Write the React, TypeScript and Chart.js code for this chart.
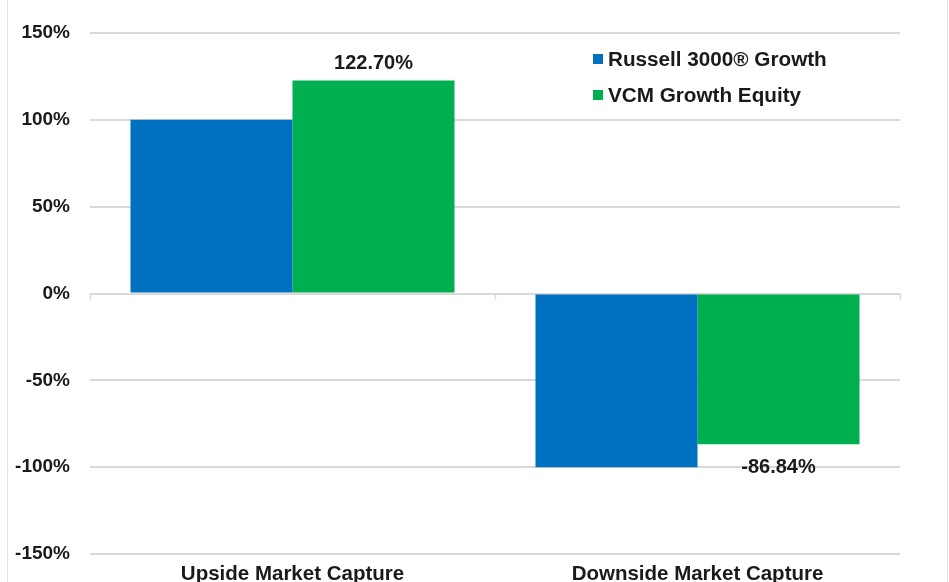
import React, { useEffect, useRef } from "react";
import { Chart, registerables } from "chart.js";

Chart.register(...registerables);

const categories = ["Upside Market Capture", "Downside Market Capture"];
const seriesNames = ["Russell 3000® Growth", "VCM Growth Equity"];
const russellValues = [100, -100];
const vcmValues = [122.7, -86.84];
const vcmLabels = ["122.70%", "-86.84%"];
const yMin = -150;
const yMax = 150;
const yStep = 50;

const BLUE = "#0070C0";
const GREEN = "#00B050";
const TEXT = "#1a1a1a";
const GRID = "#d9d9d9";
const FONT = "'Liberation Sans', Arial, sans-serif";

const extrasPlugin = {
  id: "extras",
  afterDatasetsDraw(chart: any) {
    const ctx = chart.ctx;
    const xs = chart.scales.x;
    const ys = chart.scales.y;
    const zeroY = ys.getPixelForValue(0);
    ctx.save();
    // tick marks on zero line at category boundaries
    ctx.strokeStyle = GRID;
    ctx.lineWidth = 1.5;
    const n = categories.length;
    const step = (xs.right - xs.left) / n;
    for (let i = 0; i <= n; i++) {
      const x = Math.round(xs.left + step * i) + 0.5;
      ctx.beginPath();
      ctx.moveTo(x, zeroY);
      ctx.lineTo(x, zeroY + 6);
      ctx.stroke();
    }
    // category labels
    ctx.fillStyle = TEXT;
    ctx.font = `bold 20.5px ${FONT}`;
    ctx.textAlign = "center";
    ctx.textBaseline = "alphabetic";
    categories.forEach((c, i) => {
      ctx.fillText(c, xs.getPixelForValue(i), ys.bottom + 26);
    });
    // data labels on VCM bars
    ctx.font = `bold 20px ${FONT}`;
    const meta = chart.getDatasetMeta(1);
    meta.data.forEach((el: any, i: number) => {
      const v = vcmValues[i];
      const y = v >= 0 ? el.y - 11 : el.y + 29;
      ctx.fillText(vcmLabels[i], el.x, y);
    });
    // legend
    ctx.font = `bold 20.7px ${FONT}`;
    const colors = [BLUE, GREEN];
    const lx = 593;
    const ly = [59, 95];
    ctx.textAlign = "left";
    ctx.textBaseline = "middle";
    seriesNames.forEach((name, i) => {
      ctx.fillStyle = colors[i];
      ctx.fillRect(lx, ly[i] - 5, 10, 10);
      ctx.fillStyle = TEXT;
      ctx.fillText(name, lx + 15, ly[i] + 1);
    });
    ctx.restore();
  },
};

export default function App() {
  const canvasRef = useRef<HTMLCanvasElement | null>(null);

  useEffect(() => {
    document.body.style.margin = "0";
    document.body.style.background = "#ffffff";
    const canvas = canvasRef.current;
    if (!canvas) return;
    const chart = new Chart(canvas, {
      type: "bar",
      data: {
        labels: categories,
        datasets: [
          {
            label: seriesNames[0],
            data: russellValues,
            backgroundColor: BLUE,
            categoryPercentage: 0.8,
            barPercentage: 1.0,
          },
          {
            label: seriesNames[1],
            data: vcmValues,
            backgroundColor: GREEN,
            categoryPercentage: 0.8,
            barPercentage: 1.0,
          },
        ],
      },
      options: {
        responsive: false,
        maintainAspectRatio: false,
        animation: false,
        layout: { padding: { top: 33, right: 49, bottom: 28, left: 0 } },
        plugins: {
          legend: { display: false },
          tooltip: { enabled: false },
        },
        scales: {
          x: {
            grid: { display: false, drawTicks: false },
            border: { display: false },
            ticks: { display: false },
          },
          y: {
            min: yMin,
            max: yMax,
            grid: { color: GRID, lineWidth: 2, drawTicks: false },
            border: { display: false },
            ticks: {
              stepSize: yStep,
              color: TEXT,
              padding: 20,
              font: { family: FONT, size: 19, weight: "bold" },
              callback: (v: any) => `${v}%`,
            },
            afterFit(scale: any) {
              scale.width = 90;
              scale.paddingTop = 0;
              scale.paddingBottom = 0;
            },
          },
        },
      },
      plugins: [extrasPlugin],
    });
    return () => chart.destroy();
  }, []);

  return (
    <div style={{ position: "relative", width: 949, height: 582, overflow: "hidden", background: "#fff" }}>
      <canvas ref={canvasRef} width={949} height={582} style={{ position: "absolute", left: 0, top: 0 }} />
      <div
        style={{
          position: "absolute",
          left: 7,
          top: -2,
          width: 939,
          height: 590,
          borderLeft: "1px solid #e4e4e4",
          borderRight: "1px solid #e4e4e4",
          pointerEvents: "none",
        }}
      />
    </div>
  );
}
